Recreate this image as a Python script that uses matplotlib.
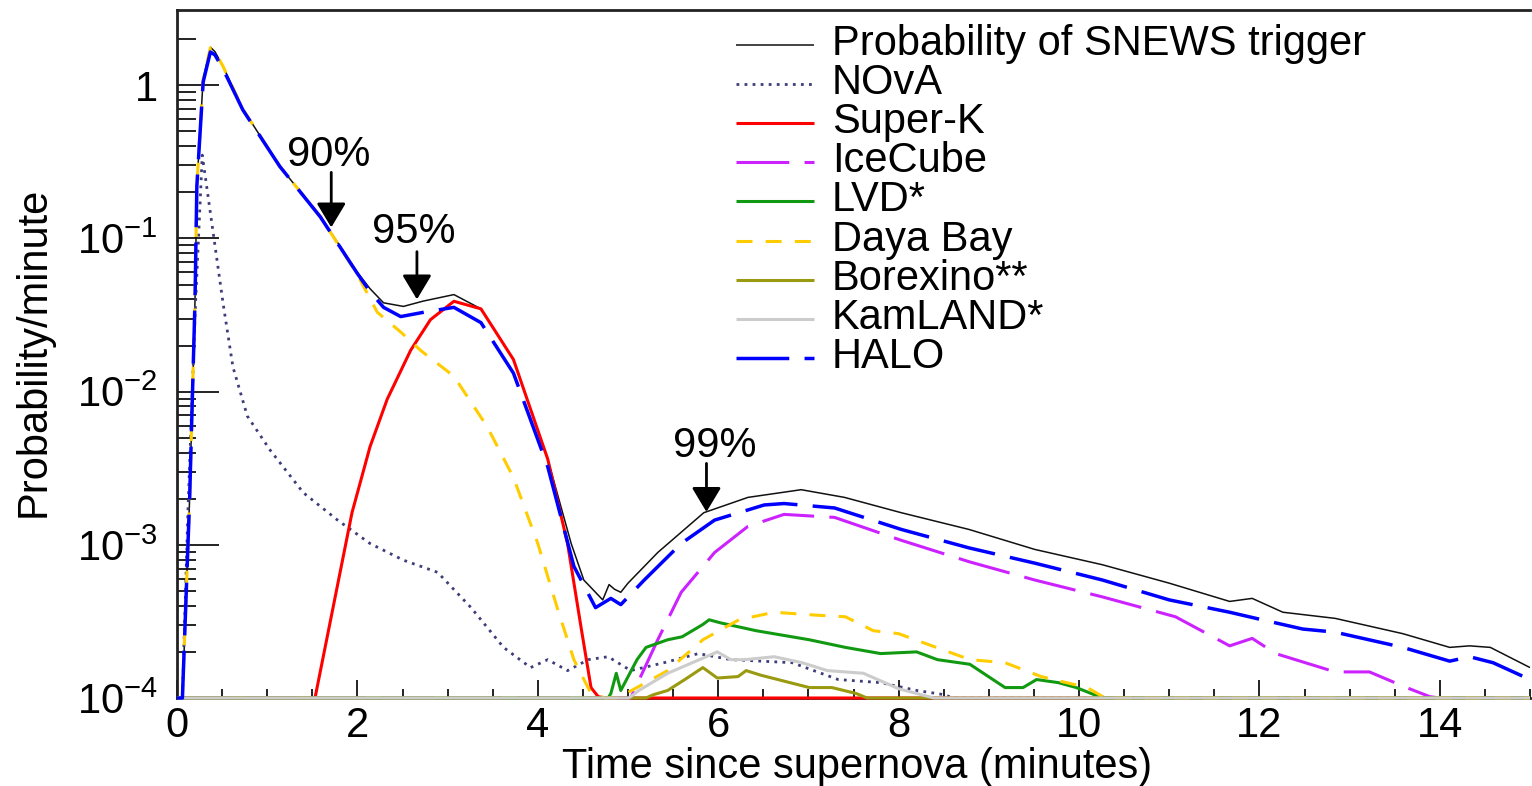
import numpy as np
import matplotlib
matplotlib.use("Agg")
import matplotlib.pyplot as plt
from matplotlib.lines import Line2D
from matplotlib.ticker import FixedLocator, FuncFormatter, NullFormatter

plt.rcParams['font.family'] = ['Liberation Sans', 'DejaVu Sans']
plt.rcParams['mathtext.fontset'] = 'custom'
plt.rcParams['mathtext.rm'] = 'Liberation Sans'
plt.rcParams['mathtext.it'] = 'Liberation Sans:italic'
plt.rcParams['mathtext.bf'] = 'Liberation Sans:bold'
plt.rcParams['lines.scale_dashes'] = False

W, H = 1532, 786
YMIN, YMAX = 1e-4, 3.1
FS = 30

# --- data (time in minutes, probability/minute; 0 = below axis) ---
total_x = [0, 0.06, 0.14, 0.20, 0.22, 0.29, 0.37, 0.42, 0.51, 0.73, 1.14, 1.59, 2.00, 2.14,
           2.29, 2.51, 2.73, 3.07, 3.37, 3.73, 4.11, 4.37, 4.51, 4.72, 4.79, 4.85, 4.92, 5.00,
           5.33, 5.84, 6.33, 6.92, 7.40, 8.03, 8.78, 9.51, 10.26, 11.00, 11.67, 11.92, 12.26,
           12.84, 13.59, 14.11, 14.33, 14.56, 15.0]
total_y = [0, 1.0e-4, 2.0e-3, 4.0e-2, 0.22, 1.1, 1.77, 1.66, 1.33, 0.70, 0.295, 0.139, 6.0e-2,
           4.7e-2, 3.8e-2, 3.6e-2, 3.9e-2, 4.3e-2, 3.47e-2, 1.62e-2, 3.63e-3, 1.02e-3, 5.89e-4,
           4.37e-4, 5.5e-4, 5.13e-4, 4.9e-4, 5.62e-4, 8.91e-4, 1.62e-3, 2.04e-3, 2.29e-3,
           2.04e-3, 1.62e-3, 1.26e-3, 9.33e-4, 7.41e-4, 5.62e-4, 4.27e-4, 4.47e-4, 3.63e-4,
           3.31e-4, 2.63e-4, 2.14e-4, 2.19e-4, 2.14e-4, 1.58e-4]

nova_x = [0, 0.06, 0.12, 0.20, 0.28, 0.40, 0.51, 0.62, 0.78, 1.03, 1.40, 1.78, 2.14, 2.51, 2.89,
          3.26, 3.62, 3.92, 4.11, 4.33, 4.56, 4.78, 5.03, 5.40, 5.78, 6.14, 6.82, 7.33, 7.80,
          8.20, 8.51, 8.60, 15.0]
nova_y = [0, 1.0e-4, 1.58e-3, 3.16e-2, 0.35, 0.11, 3.8e-2, 1.45e-2, 6.92e-3, 4.17e-3, 2.19e-3,
          1.45e-3, 1.02e-3, 7.94e-4, 6.61e-4, 3.89e-4, 2.14e-4, 1.58e-4, 1.78e-4, 1.51e-4,
          1.78e-4, 1.86e-4, 1.51e-4, 1.70e-4, 1.95e-4, 1.78e-4, 1.70e-4, 1.32e-4, 1.26e-4,
          1.12e-4, 1.05e-4, 0, 0]

superk_x = [0, 1.50, 1.53, 1.73, 1.94, 2.14, 2.33, 2.59, 2.81, 3.07, 3.37, 3.73, 4.11, 4.33,
            4.48, 4.59, 4.67, 4.75, 15.0]
superk_y = [0, 0, 1.0e-4, 3.89e-4, 1.62e-3, 4.37e-3, 8.91e-3, 1.86e-2, 2.95e-2, 3.89e-2,
            3.47e-2, 1.62e-2, 3.63e-3, 1.02e-3, 2.88e-4, 1.17e-4, 1.02e-4, 0, 0]

icecube_x = [0, 5.00, 5.03, 5.33, 5.59, 5.96, 6.33, 6.73, 7.29, 8.03, 8.78, 9.51, 10.26, 11.07,
             11.67, 11.92, 12.18, 12.84, 13.22, 13.63, 13.89, 14.0, 15.0]
icecube_y = [0, 0, 1.0e-4, 2.40e-4, 4.90e-4, 8.91e-4, 1.32e-3, 1.58e-3, 1.51e-3, 1.07e-3,
             7.76e-4, 5.89e-4, 4.57e-4, 3.39e-4, 2.19e-4, 2.45e-4, 1.95e-4, 1.48e-4, 1.48e-4,
             1.17e-4, 1.02e-4, 0, 0]

lvd_x = [0, 4.78, 4.81, 4.87, 4.92, 5.10, 5.20, 5.44, 5.60, 5.83, 5.90, 6.03, 6.42, 7.01, 7.41,
         7.80, 8.20, 8.43, 8.79, 9.18, 9.38, 9.53, 9.77, 9.97, 10.17, 10.30, 15.0]
lvd_y = [0, 0, 1.07e-4, 1.45e-4, 1.12e-4, 1.78e-4, 2.14e-4, 2.40e-4, 2.51e-4, 3.02e-4, 3.24e-4,
         3.09e-4, 2.75e-4, 2.40e-4, 2.14e-4, 1.95e-4, 2.0e-4, 1.78e-4, 1.66e-4, 1.17e-4,
         1.17e-4, 1.32e-4, 1.26e-4, 1.17e-4, 1.05e-4, 0, 0]

dayabay_x = [0, 0.06, 0.14, 0.20, 0.22, 0.29, 0.37, 0.42, 0.51, 0.73, 1.14, 1.59, 2.00, 2.22,
             2.48, 2.70, 3.07, 3.44, 3.73, 4.00, 4.22, 4.40, 4.59, 4.75, 4.90, 5.04, 5.44, 5.83,
             6.23, 6.62, 7.10, 7.41, 7.72, 8.00, 8.28, 8.79, 9.18, 9.58, 10.09, 10.29, 10.35, 15.0]
dayabay_y = [0, 1.0e-4, 2.0e-3, 4.0e-2, 0.22, 1.1, 1.76, 1.66, 1.33, 0.70, 0.295, 0.139, 5.8e-2,
             3.3e-2, 2.45e-2, 1.86e-2, 1.26e-2, 5.89e-3, 2.75e-3, 1.02e-3, 3.80e-4, 1.78e-4,
             1.07e-4, 0, 0, 1.12e-4, 1.51e-4, 2.40e-4, 3.24e-4, 3.63e-4, 3.47e-4, 3.39e-4,
             2.75e-4, 2.63e-4, 2.29e-4, 1.78e-4, 1.70e-4, 1.38e-4, 1.17e-4, 1.0e-4, 0, 0]

borexino_x = [0, 5.20, 5.28, 5.44, 5.63, 5.83, 5.99, 6.22, 6.31, 6.47, 7.01, 7.26, 7.53, 7.65,
              7.70, 15.0]
borexino_y = [0, 0, 1.05e-4, 1.12e-4, 1.32e-4, 1.58e-4, 1.35e-4, 1.38e-4, 1.51e-4, 1.41e-4,
              1.17e-4, 1.17e-4, 1.07e-4, 1.0e-4, 0, 0]

kamland_x = [0, 4.95, 5.01, 5.12, 5.44, 5.83, 5.99, 6.14, 6.30, 6.62, 6.93, 7.21, 7.61, 8.00,
             8.39, 8.45, 15.0]
kamland_y = [0, 0, 1.0e-4, 1.12e-4, 1.45e-4, 1.82e-4, 2.0e-4, 1.78e-4, 1.78e-4, 1.86e-4,
             1.70e-4, 1.51e-4, 1.45e-4, 1.15e-4, 1.0e-4, 0, 0]

halo_x = [0, 0.06, 0.14, 0.20, 0.22, 0.29, 0.37, 0.42, 0.51, 0.73, 1.14, 1.59, 2.00, 2.14, 2.29,
          2.48, 2.75, 3.07, 3.37, 3.73, 4.11, 4.40, 4.64, 4.81, 4.92, 5.18, 5.59, 5.96, 6.51,
          6.73, 7.29, 8.03, 8.78, 9.51, 10.26, 11.00, 11.67, 12.03, 12.48, 12.84, 13.59, 14.11,
          14.33, 14.59, 15.0]
halo_y = [0, 1.0e-4, 2.0e-3, 4.0e-2, 0.22, 1.05, 1.65, 1.58, 1.28, 0.69, 0.295, 0.138, 5.9e-2,
          4.5e-2, 3.55e-2, 3.09e-2, 3.31e-2, 3.55e-2, 2.82e-2, 1.32e-2, 3.24e-3, 7.24e-4,
          3.89e-4, 4.47e-4, 4.07e-4, 5.89e-4, 1.02e-3, 1.45e-3, 1.82e-3, 1.86e-3, 1.74e-3,
          1.26e-3, 9.55e-4, 7.59e-4, 5.89e-4, 4.37e-4, 3.63e-4, 3.24e-4, 2.82e-4, 2.69e-4,
          2.14e-4, 1.74e-4, 1.86e-4, 1.70e-4, 1.32e-4]

labels = ['Probability of SNEWS trigger', 'NOvA', 'Super-K', 'IceCube', 'LVD*', 'Daya Bay',
          'Borexino**', 'KamLAND*', 'HALO']

# cumulative-probability markers: (label, arrow x, tail y, tip y, text y)
marks = [('90%', 1.71, 0.27, 0.118, 0.296),
         ('95%', 2.66, 0.082, 0.040, 0.094),
         ('99%', 5.87, 3.4e-3, 1.64e-3, 3.76e-3)]
mark_text_x = [1.68, 2.63, 5.96]

series = [
    (total_x, total_y, dict(color='#111111', lw=1.1)),
    (nova_x, nova_y, dict(color='#3d3d7a', lw=2.0, dashes=(2.0, 3.8))),
    (superk_x, superk_y, dict(color='#ff0000', lw=2.2)),
    (icecube_x, icecube_y, dict(color='#cc22ff', lw=2.2, dashes=(38, 11))),
    (lvd_x, lvd_y, dict(color='#119a11', lw=2.2)),
    (dayabay_x, dayabay_y, dict(color='#ffcc00', lw=2.2, dashes=(11.5, 9.5))),
    (borexino_x, borexino_y, dict(color='#9a9a10', lw=2.2)),
    (kamland_x, kamland_y, dict(color='#cccccc', lw=2.2)),
    (halo_x, halo_y, dict(color='#0000ff', lw=2.5, dashes=(38, 11))),
]

fig = plt.figure(figsize=(W / 100, H / 100), dpi=100)
ax = fig.add_axes([177 / W, 88 / H, 1353 / W, 688 / H])

for x, y, st in series:
    ax.plot(x, np.clip(np.array(y, dtype=float), YMIN, None), zorder=3, clip_on=False,
            solid_capstyle='butt', dash_capstyle='butt', **st)

ax.set_yscale('log')
ax.set_xlim(0, 15)
ax.set_ylim(YMIN, YMAX)

ax.xaxis.set_major_locator(FixedLocator(np.arange(0, 15, 2)))
ax.xaxis.set_minor_locator(FixedLocator(np.arange(0, 15.01, 0.5)))
ax.yaxis.set_major_locator(FixedLocator([1e-4, 1e-3, 1e-2, 1e-1, 1]))
ax.yaxis.set_minor_locator(FixedLocator([k * 10.0 ** e for e in range(-4, 1) for k in range(2, 10)
                                         if k * 10.0 ** e <= 2.0]))
ax.yaxis.set_minor_formatter(NullFormatter())


def decade(v, pos):
    e = int(round(np.log10(v)))
    return '1' if e == 0 else r'10$^{%d}$' % e


ax.yaxis.set_major_formatter(FuncFormatter(decade))

ax.tick_params(axis='x', which='major', direction='in', length=13, width=1.4, pad=5.8,
               labelsize=FS, top=False, color='#222222')
ax.tick_params(axis='x', which='minor', direction='in', length=6.5, width=1.4, top=False,
               color='#222222')
ax.tick_params(axis='y', which='major', direction='in', length=30, width=1.4, pad=14,
               labelsize=FS, right=False, color='#222222')
ax.tick_params(axis='y', which='minor', direction='in', length=14, width=1.4, right=False,
               color='#222222')

for side in ['left', 'top', 'bottom']:
    ax.spines[side].set_linewidth(2)
    ax.spines[side].set_color('#222222')
ax.spines['right'].set_visible(False)

ax.set_xlabel('Time since supernova (minutes)', fontsize=FS)
ax.xaxis.set_label_coords(0.5026, -0.071)
ax.set_ylabel('Probability/minute', fontsize=FS)
ax.yaxis.set_label_coords(-0.0909, 0.503)

for (txt, ax_x, tail, tip, ty), tx in zip(marks, mark_text_x):
    ax.annotate('', xy=(ax_x, tip), xytext=(ax_x, tail),
                arrowprops=dict(arrowstyle='-|>,head_length=0.75,head_width=0.45',
                                mutation_scale=20, lw=2, color='black',
                                shrinkA=0, shrinkB=0))
    ax.text(tx, ty, txt, fontsize=FS, ha='center', va='baseline')

# legend, ROOT-like tight rows
for i, (lab, (x, y, st)) in enumerate(zip(labels, series)):
    yh = 1 - (45 + 39.1 * i) / H
    fig.add_artist(Line2D([736 / W, 814 / W], [yh, yh], transform=fig.transFigure,
                          solid_capstyle='butt', dash_capstyle='butt', **st))
    fig.text(832 / W, 1 - (55 + 39.1 * i) / H, lab, fontsize=FS, va='baseline')

fig.savefig('out.png', dpi=100)
